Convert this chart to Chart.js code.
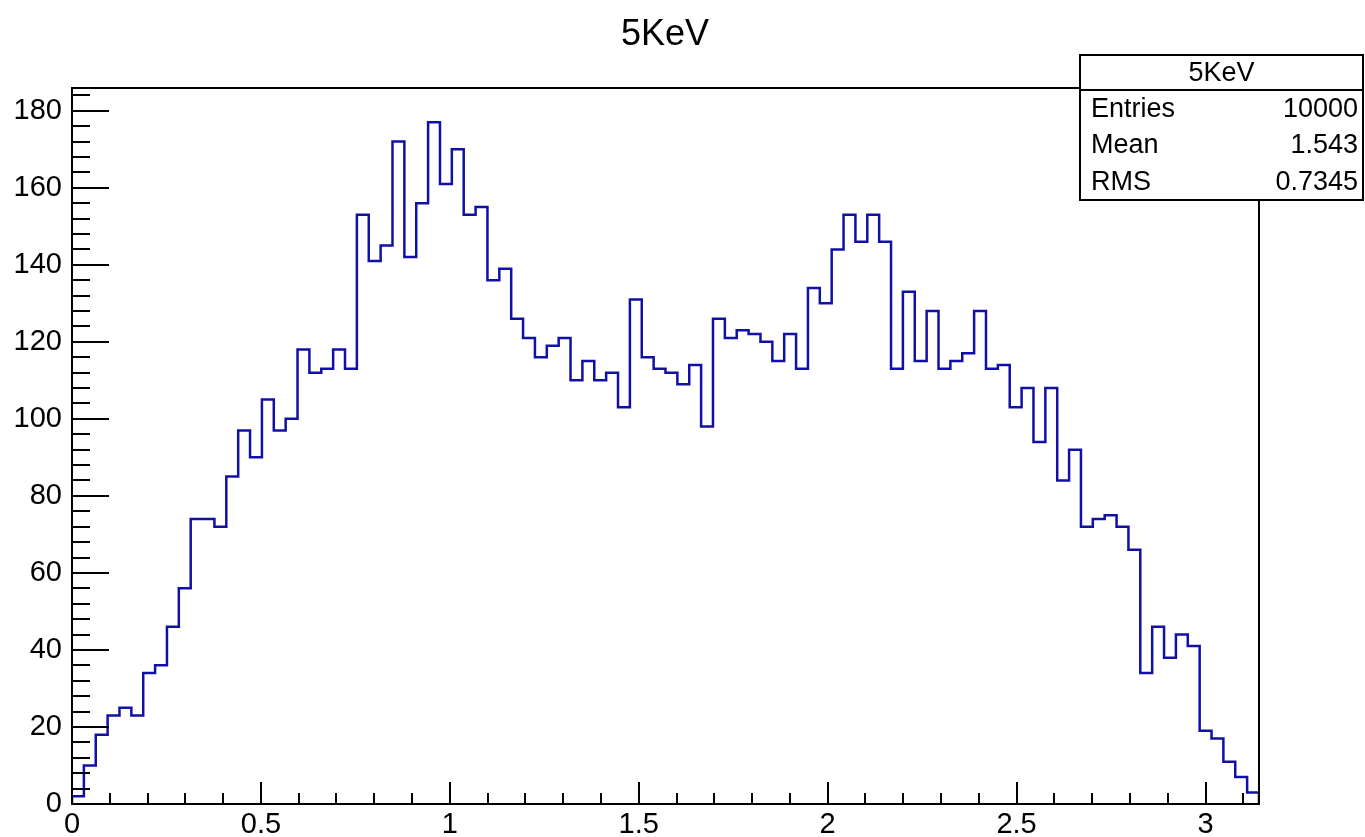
<!DOCTYPE html>
<html>
<head>
<meta charset="utf-8">
<script src="https://cdn.jsdelivr.net/npm/chart.js@4"></script>
<style>
    html, body { margin: 0; padding: 0; background: #fff; }
    #wrap { width: 1365px; height: 837px; position: relative; }
</style>
</head>
<body>
<div id="wrap"><canvas id="hist"></canvas></div>
<script>
// Histogram contents, 100 bins over [0, pi]
const binCounts = [
    2, 10, 18, 23, 25, 23, 34, 36, 46, 56,
    74, 74, 72, 85, 97, 90, 105, 97, 100, 118,
    112, 113, 118, 113, 153, 141, 145, 172, 142, 156,
    177, 161, 170, 153, 155, 136, 139, 126, 121, 116,
    119, 121, 110, 115, 110, 112, 103, 131, 116, 113,
    112, 109, 114, 98, 126, 121, 123, 122, 120, 115,
    122, 113, 134, 130, 144, 153, 146, 153, 146, 113,
    133, 115, 128, 113, 115, 117, 128, 113, 114, 103,
    108, 94, 108, 84, 92, 72, 74, 75, 72, 66,
    34, 46, 38, 44, 41, 19, 17, 11, 7, 3
];
const xMin = 0;
const xMax = Math.PI;
const yMax = 185.9;

const histTitle = "5KeV";
const statLabels = ["Entries", "Mean", "RMS"];
const statValues = ["10000", "1.543", "0.7345"];

const FONT = "'Liberation Sans', Arial, Helvetica, sans-serif";

// build step outline points from bin low edges
const binWidth = (xMax - xMin) / binCounts.length;
let points = [{x: xMin, y: 0}];
for (let i = 0; i < binCounts.length; i ++) {
    points.push({x: xMin + i * binWidth, y: binCounts[i]});
}
points.push({x: xMax, y: binCounts[binCounts.length - 1]});
points.push({x: xMax, y: 0});

function isMultiple(v, step) {
    const r = v / step;
    return Math.abs(r - Math.round(r)) < 1e-6;
}

// ROOT style frame: inward ticks, box, title and stats box
const rootFrame = {
    id: "rootFrame",
    afterDatasetsDraw(chart) {
        const ctx = chart.ctx;
        const a = chart.chartArea;
        const xs = chart.scales.x;
        const ys = chart.scales.y;
        ctx.save();
        ctx.strokeStyle = "#000";
        ctx.lineWidth = 2;
        ctx.beginPath();
        xs.ticks.forEach(t => {
            const px = Math.round(xs.getPixelForValue(t.value));
            const len = isMultiple(t.value, 0.5) ? 22 : 11;
            ctx.moveTo(px, a.bottom);
            ctx.lineTo(px, a.bottom - len);
        });
        ys.ticks.forEach(t => {
            const py = Math.round(ys.getPixelForValue(t.value));
            const len = isMultiple(t.value, 20) ? 37 : 18;
            ctx.moveTo(a.left, py);
            ctx.lineTo(a.left + len, py);
        });
        ctx.stroke();
        ctx.strokeRect(a.left, a.top, a.right - a.left, a.bottom - a.top);

        // title
        ctx.fillStyle = "#000";
        ctx.font = "36px " + FONT;
        ctx.textAlign = "center";
        ctx.textBaseline = "middle";
        ctx.fillText(histTitle, 665, 35);

        // stats box
        const bx = 1080, by = 55, bw = 283, bh = 145, head = 35;
        ctx.fillStyle = "#fff";
        ctx.fillRect(bx, by, bw, bh);
        ctx.strokeRect(bx, by, bw, bh);
        ctx.beginPath();
        ctx.moveTo(bx, by + head);
        ctx.lineTo(bx + bw, by + head);
        ctx.stroke();
        ctx.fillStyle = "#000";
        ctx.font = "27px " + FONT;
        ctx.fillText(histTitle, bx + bw / 2, by + head / 2 + 1);
        const rowH = (bh - head) / statLabels.length;
        for (let i = 0; i < statLabels.length; i ++) {
            const cy = by + head + rowH * (i + 0.5) + 1;
            ctx.textAlign = "left";
            ctx.fillText(statLabels[i], bx + 11, cy);
            ctx.textAlign = "right";
            ctx.fillText(statValues[i], bx + bw - 5, cy);
        }
        ctx.restore();
    }
};

const config = {
    type: "line",
    data: {
        datasets: [{
            data: points,
            stepped: "before",
            borderColor: "#1010a6",
            borderWidth: 2.5,
            pointRadius: 0,
            fill: false
        }]
    },
    options: {
        responsive: true,
        maintainAspectRatio: false,
        animation: false,
        events: [],
        layout: {
            padding: { top: 88, right: 106, left: 0, bottom: 0 }
        },
        plugins: {
            legend: { display: false },
            tooltip: { enabled: false },
            title: { display: false }
        },
        scales: {
            x: {
                type: "linear",
                min: xMin,
                max: xMax,
                grid: { display: false, drawTicks: false },
                border: { display: false },
                ticks: {
                    stepSize: 0.1,
                    includeBounds: false,
                    autoSkip: false,
                    maxRotation: 0,
                    padding: 4,
                    color: "#000",
                    font: { family: FONT, size: 29 },
                    callback: (v) => isMultiple(v, 0.5) ? String(Math.round(v * 2) / 2) : ""
                },
                afterFit: (s) => { s.height = 33; }
            },
            y: {
                min: 0,
                max: yMax,
                grid: { display: false, drawTicks: false },
                border: { display: false },
                ticks: {
                    stepSize: 4,
                    includeBounds: false,
                    autoSkip: false,
                    padding: 10,
                    color: "#000",
                    font: { family: FONT, size: 29 },
                    callback: (v) => isMultiple(v, 20) ? String(Math.round(v)) : ""
                },
                afterFit: (s) => { s.width = 72; }
            }
        }
    },
    plugins: [rootFrame]
};

new Chart(document.getElementById("hist"), config);
</script>
</body>
</html>
